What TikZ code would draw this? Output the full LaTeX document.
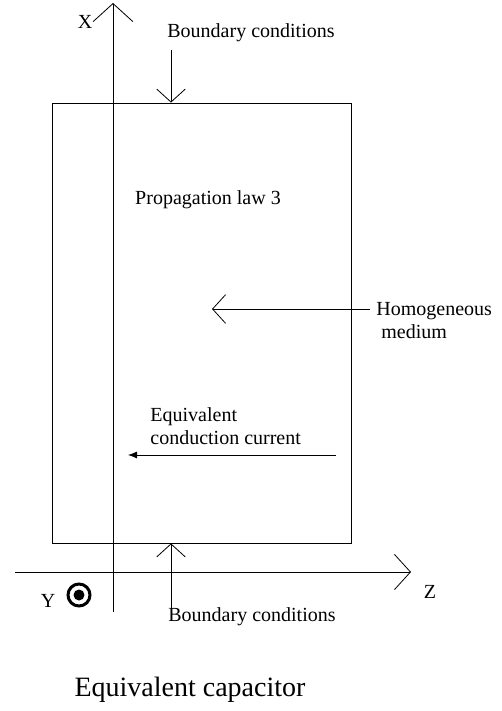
\documentclass[tikz,border=0pt]{standalone}
\usepackage{fontspec}
\setmainfont{Liberation Serif}
\usetikzlibrary{arrows.meta}
\tikzset{
  openhead/.style={-{Straight Barb[length=#1,width=2.2*#1,line width=0.8pt]}},
  txt/.style={font=\fontsize{20}{23}\selectfont, inner sep=0pt},
}
\begin{document}
\begin{tikzpicture}[x=1pt, y=-1pt, line width=0.8pt]
\useasboundingbox (0,0) rectangle (502,711);
% Milieu et axes
\node (box) [draw, minimum width=299pt, minimum height=440pt, inner sep=0pt] at (201.5,323) {};
\coordinate (xfoot) at (113,612);
\coordinate (xtip) at (113,3);
\coordinate (zfoot) at (15,572);
\coordinate (ztip) at (411,572);
\draw[openhead=18pt] (xfoot) -- (xtip);
\draw[openhead=16pt] (zfoot) -- (ztip);
\node (xlab) [txt] at (85,22) {X};
\node (zlab) [txt] at (430,592) {Z};
\node (ylab) [txt] at (48,601) {Y};
\node (ydot) [draw, circle, line width=3pt, minimum size=22pt, inner sep=0pt] at (79,595) {};
\fill (ydot.center) circle (5.5pt);
% Conditions aux limites
\node (topbc) [txt] at (251,33) {Boundary conditions};
\node (botbc) [txt] at (252,617) {Boundary conditions};
\coordinate (topstart) at (171,50);
\coordinate (botstart) at (171,615);
\draw[openhead=13pt] (topstart) -- (topstart |- box.north);
\draw[openhead=13pt] (botstart) -- (botstart |- box.south);
% Textes interieurs
\node (law) [txt] at (208,200) {Propagation law 3};
\node (homog) [txt, anchor=west, align=left] at (376,321) {Homogeneous\\\ medium};
\coordinate (hstart) at (370,309);
\coordinate (hend) at (212,309);
\draw[openhead=13pt] (hstart) -- (hend);
\node (eqc) [txt, anchor=west, align=left] at (150,426) {Equivalent\\conduction current};
\coordinate (cstart) at (336,455);
\coordinate (cend) at (128,455);
\draw[-{Latex[length=9pt,width=7pt]}] (cstart) -- (cend);
\node (title) [font=\fontsize{28}{32}\selectfont, inner sep=0pt] at (190,690) {Equivalent capacitor};
\end{tikzpicture}
\end{document}
